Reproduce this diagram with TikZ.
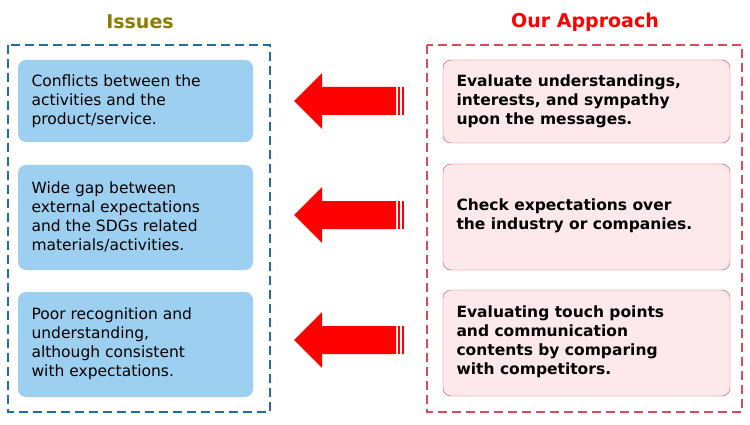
\documentclass[tikz,border=0pt]{standalone}
\usepackage{fontspec}
\setmainfont{DejaVu Sans}
\begin{document}
\begin{tikzpicture}[x=1pt,y=-1pt,
 lbox/.style={draw=none,fill=blueF,rounded corners=8pt,anchor=north west,inner sep=0pt},
 rbox/.style={draw=redB,fill=pinkF,rounded corners=8pt,anchor=north west,inner sep=0pt},
 txt/.style={anchor=west,align=left,font=\fontsize{15.5}{19}\selectfont},
 arrowst/.style={fill=red,draw=none}]
\definecolor{blueF}{HTML}{9DCFF0}
\definecolor{pinkF}{HTML}{FDE9EC}
\definecolor{redB}{HTML}{E8434F}
\definecolor{blueD}{HTML}{1F6F9F}
\definecolor{redD}{HTML}{D94A5C}
\definecolor{olive}{HTML}{8B7D00}
\useasboundingbox (0,0) rectangle (750,425);
\draw[blueD,line width=2.5pt,dash pattern=on 9pt off 5pt] (8,45) rectangle (270,412);
\draw[redD,line width=2.5pt,dash pattern=on 9pt off 5pt] (427,45) rectangle (742,412);
\node[olive,font=\bfseries\fontsize{19}{22}\selectfont] (t1) at (140,22) {Issues};
\node[red,font=\bfseries\fontsize{19}{22}\selectfont] (t2) at (585,22) {Our Approach};
\foreach \n/\y/\h in {1/60/82,2/165/105,3/292/105}{
 \path[lbox] (18,\y) rectangle +(235,\h);
}
\foreach \n/\y/\h in {1/60/83,2/164/106,3/290/106}{
 \path[rbox,draw=redB] (443,\y) rectangle +(287,\h);
}
\node[txt] (l1) at (28,101) {Conflicts between the\\activities and the\\product/service.};
\node[txt] (l2) at (28,217) {Wide gap between\\external expectations\\and the SDGs related\\materials/activities.};
\node[txt] (l3) at (28,344) {Poor recognition and\\understanding,\\although consistent\\with expectations.};
\node[txt,font=\bfseries\fontsize{15.5}{19}\selectfont] (r1) at (453,101) {Evaluate understandings,\\interests, and sympathy\\upon the messages.};
\node[txt,font=\bfseries\fontsize{15.5}{19}\selectfont] (r2) at (453,216) {Check expectations over\\the industry or companies.};
\node[txt,font=\bfseries\fontsize{15.5}{19}\selectfont] (r3) at (453,342) {Evaluating touch points\\and communication\\contents by comparing\\with competitors.};
\foreach \c in {101,215,340}{
 \fill[red] (294,\c) -- (322,\c-28) -- (322,\c-14) -- (396,\c-14) -- (396,\c+14) -- (322,\c+14) -- (322,\c+28) -- cycle;
 \fill[red] (397.5,\c-14) rectangle (400,\c+14);
 \fill[red] (402,\c-14) rectangle (404,\c+14);
}
\end{tikzpicture}
\end{document}
